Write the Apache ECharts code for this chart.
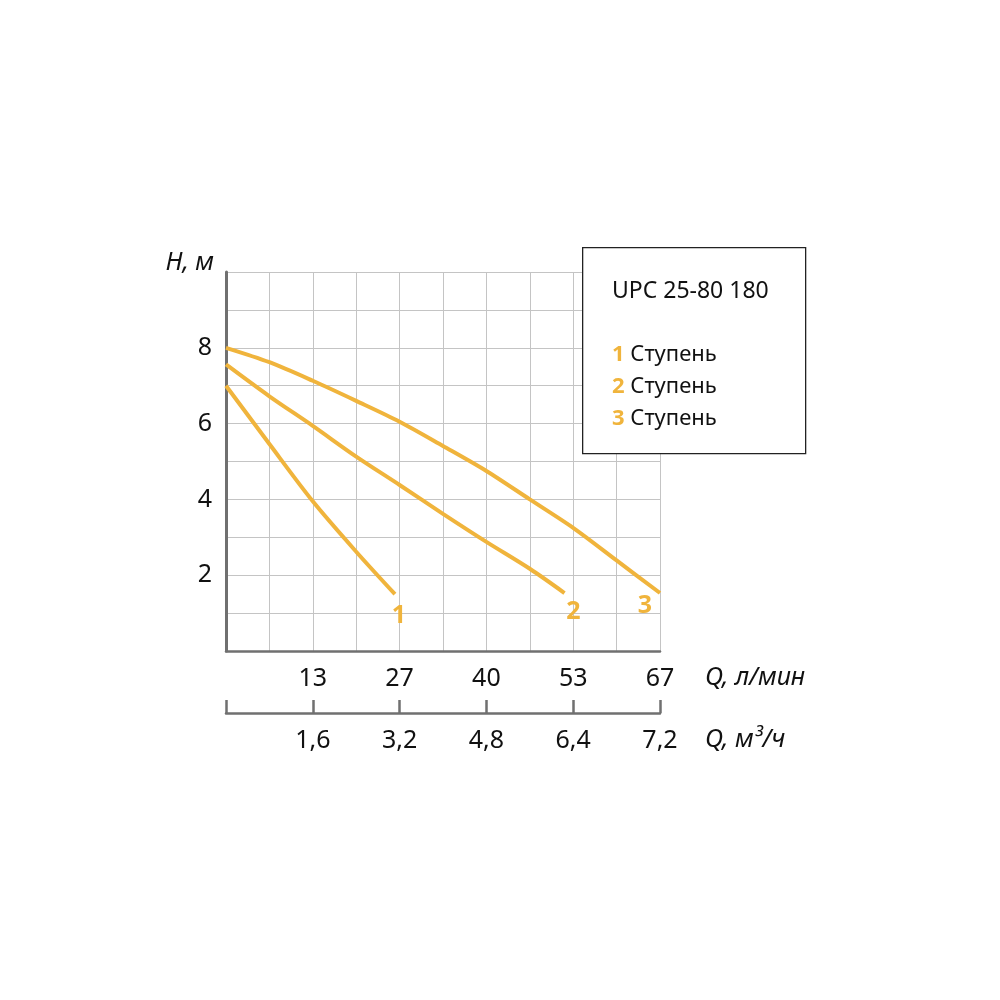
<!DOCTYPE html>
<html>
<head>
<meta charset="utf-8">
<script src="https://cdn.jsdelivr.net/npm/echarts@6/dist/echarts.min.js"></script>
<style>html,body{margin:0;padding:0;background:#fff}#c{width:1000px;height:1000px}</style>
</head>
<body>
<div id="c"></div>
<script>
// ---- data (x in l/min, y in m) ----
const curve1 = [[0,7.0],[6.67,5.46],[13.33,3.95],[20,2.62],[25.95,1.5]];
const curve2 = [[0,7.56],[6.67,6.72],[13.33,5.94],[20,5.13],[26.67,4.38],[33.33,3.62],[40,2.88],[46.67,2.17],[52,1.53]];
const curve3 = [[0,8.0],[6.67,7.62],[13.33,7.13],[20,6.60],[26.67,6.05],[33.33,5.41],[40,4.75],[46.67,4.0],[53.33,3.25],[60,2.39],[66.67,1.53]];
const seriesNames = ['1','2','3'];
const lpmLabels = ['13','27','40','53','67'];
const m3hLabels = ['1,6','3,2','4,8','6,4','7,2'];
const yTicks = [2,4,6,8];
const modelName = 'UPC 25-80 180';
const legendWord = 'Ступень';

const ORANGE = '#F0B43C';
const FONT = 'Noto Sans';
const xMax = 66.67, xStep = 6.667, xStep2 = 13.334;

function xLabelFrom(arr, step){
  return function(v){
    const i = Math.round(v / step);
    if (i > 0 && i % 2 === 0) return arr[i/2 - 1];
    return '';
  };
}

const chart = echarts.init(document.getElementById('c'), null, {renderer:'canvas'});
const endOffsets = [[4,22],[9,19],[-15,13]];
const datas = [curve1, curve2, curve3];
const nameStyle = {fontFamily:FONT, fontSize:25, fontStyle:'italic', color:'#111', verticalAlign:'top', lineHeight:54};

chart.setOption({
  animation:false,
  backgroundColor:'#fff',
  textStyle:{fontFamily:FONT},
  title:{
    text:modelName, left:607, top:275, z:20,
    textStyle:{fontFamily:FONT, fontSize:23, fontWeight:'normal', color:'#111'}
  },
  legend:{
    orient:'vertical', left:602, top:339, z:20,
    icon:'none', itemWidth:0, itemHeight:22, itemGap:10,
    data:seriesNames,
    formatter: n => '{n|' + n + '} ' + legendWord,
    textStyle:{fontFamily:FONT, fontSize:22, color:'#111',
      rich:{n:{fontFamily:FONT, fontSize:22, fontWeight:'bold', color:ORANGE}}}
  },
  graphic:[{
    type:'rect', z:10, left:582, top:247,
    shape:{width:223, height:206},
    style:{fill:'#fff', stroke:'#222', lineWidth:1.3}
  }],
  grid:{left:226, top:272, width:434, height:379, containLabel:false},
  xAxis:[{
    type:'value', min:0, max:xMax, interval:xStep,
    name:'Q, л/мин', nameLocation:'end', nameGap:45,
    nameTextStyle:nameStyle,
    axisLine:{show:true, lineStyle:{color:'#707070', width:2.5}},
    axisTick:{show:false},
    splitLine:{show:true, lineStyle:{color:'#c4c4c4', width:1}},
    axisLabel:{formatter:xLabelFrom(lpmLabels, xStep), margin:15, fontFamily:FONT, fontSize:25, color:'#111', showMinLabel:true, showMaxLabel:true}
  },{
    type:'value', min:0, max:xMax, interval:xStep2, position:'bottom', offset:62,
    name:'Q, м³/ч', nameLocation:'end', nameGap:45,
    nameTextStyle:nameStyle,
    axisLine:{show:true, lineStyle:{color:'#707070', width:2.5}},
    axisTick:{show:true, inside:true, length:13, lineStyle:{color:'#707070', width:2.5}},
    splitLine:{show:false},
    axisLabel:{formatter: v => { const i = Math.round(v / xStep2); return i > 0 ? m3hLabels[i-1] : ''; },
      margin:15, fontFamily:FONT, fontSize:25, color:'#111', showMinLabel:true, showMaxLabel:true}
  }],
  yAxis:{
    type:'value', min:0, max:10, interval:1,
    name:'H, м', nameLocation:'end', nameGap:9,
    nameTextStyle:{fontFamily:FONT, fontSize:25, fontStyle:'italic', color:'#111', align:'right', verticalAlign:'middle', padding:[0,12,0,0]},
    axisLine:{show:true, lineStyle:{color:'#707070', width:3}},
    axisTick:{show:false},
    splitLine:{show:true, lineStyle:{color:'#c4c4c4', width:1}},
    axisLabel:{formatter: v => yTicks.includes(v) ? String(v) : '', margin:14, fontFamily:FONT, fontSize:25, color:'#111'}
  },
  series: datas.map((d,i)=>({
    type:'line', name:seriesNames[i], data:d, xAxisIndex:0,
    smooth:0.3, showSymbol:false, symbol:'none', z:5,
    lineStyle:{color:ORANGE, width:4},
    itemStyle:{color:ORANGE},
    endLabel:{show:true, formatter:seriesNames[i], distance:0, align:'center', verticalAlign:'middle',
      offset:endOffsets[i], fontFamily:FONT, fontSize:25, fontWeight:'bold', color:ORANGE}
  }))
});
</script>
</body>
</html>
